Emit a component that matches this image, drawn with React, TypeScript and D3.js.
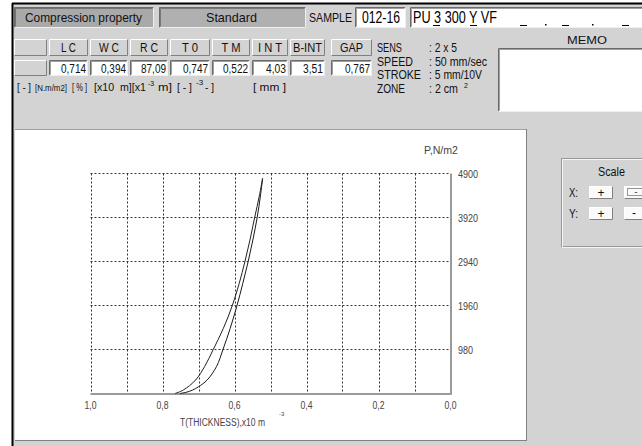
import React from "react";
import * as d3 from "d3";

// ---- data ----
const tableHeaders = ["L C", "W C", "R C", "T 0", "T M", "I N T", "B-INT", "GAP"];
const tableValues = ["0,714", "0,394", "87,09", "0,747", "0,522", "4,03", "3,51", "0,767"];
const infoLabels = ["SENS", "SPEED", "STROKE", "ZONE"];
const infoValues = [": 2 x 5", ": 50 mm/sec", ": 5 mm/10V", ": 2 cm"];
const xTicks = [1.0, 0.8, 0.6, 0.4, 0.2, 0.0];
const xGrid = [1.0, 0.9, 0.8, 0.7, 0.6, 0.5, 0.4, 0.3, 0.2, 0.1];
const yTicks = [980, 1960, 2940, 3920, 4900];
// loading curve (thickness mm, pressure N/m2)
const loadT = [0.765, 0.742, 0.708, 0.683, 0.659, 0.631, 0.606, 0.587, 0.571, 0.557, 0.544, 0.531, 0.522];
const loadP = [0, 78, 300, 600, 980, 1450, 1960, 2450, 2940, 3420, 3920, 4400, 4790];
// recovery curve
const recT = [0.752, 0.735, 0.716, 0.700, 0.676, 0.650, 0.632, 0.612, 0.593, 0.577, 0.562, 0.549, 0.537, 0.528, 0.522];
const recP = [0, 25, 78, 150, 300, 600, 980, 1450, 1960, 2450, 2940, 3420, 3920, 4400, 4790];

const FONT = "'Liberation Sans', Arial, sans-serif";
const BG = "#d3d3d3";

function T({ w, children, ...rest }: any) {
  return (
    <text textLength={w} lengthAdjust="spacingAndGlyphs" {...rest}>
      {children}
    </text>
  );
}

function Raised({ x, y, w, h, fill = BG }: any) {
  return (
    <g>
      <rect x={x} y={y} width={w} height={h} fill={fill} />
      <path d={`M${x + 0.5},${y + h - 0.5}V${y + 0.5}H${x + w - 0.5}`} stroke="#fff" fill="none" />
      <path d={`M${x + 0.5},${y + h - 0.5}H${x + w - 0.5}V${y + 0.5}`} stroke="#808080" fill="none" />
    </g>
  );
}
function Sunken({ x, y, w, h, fill = "#fff" }: any) {
  return (
    <g>
      <rect x={x} y={y} width={w} height={h} fill={fill} />
      <path d={`M${x + 0.5},${y + h - 0.5}V${y + 0.5}H${x + w - 0.5}`} stroke="#6a6a6a" fill="none" />
      <path d={`M${x + 1.5},${y + h - 1.5}V${y + 1.5}H${x + w - 1.5}`} stroke="#404040" fill="none" strokeOpacity={0.5} />
      <path d={`M${x + 0.5},${y + h - 0.5}H${x + w - 0.5}V${y + 0.5}`} stroke="#eee" fill="none" />
    </g>
  );
}

const cellX = [14, 49, 90, 130, 170, 212, 252, 290, 331];
const cellW = [33, 39, 38, 38, 40, 38, 36, 35, 41];
const headW = [15, 20, 18, 16, 19, 24, 29, 23];
const infoLabelW = [25, 36, 44, 28];
const infoValueW = [28, 58, 53, 29];

export default function App() {
  const x = d3.scaleLinear().domain([1, 0]).range([90.5, 450.5]);
  const y = d3.scaleLinear().domain([0, 4900]).range([393.5, 173.5]);
  const line = d3
    .line<[number, number]>()
    .x((d) => x(d[0]))
    .y((d) => y(d[1]))
    .curve(d3.curveCatmullRom.alpha(0.5));
  const loadPts = loadT.map((t, i) => [t, loadP[i]] as [number, number]);
  const recPts = recT.map((t, i) => [t, recP[i]] as [number, number]);
  const fmt = (v: number) => v.toFixed(1).replace(".", ",");

  return (
    <div style={{ position: "fixed", left: 0, top: 0 }}>
      <svg width={642} height={446} style={{ display: "block", fontFamily: FONT }}>
        <rect x={0} y={0} width={642} height={446} fill="#fff" />
        <rect x={12} y={3} width={630} height={443} fill={BG} />
        <line x1={12} y1={3.5} x2={642} y2={3.5} stroke="#000" strokeWidth={2} />
        <line x1={12.5} y1={3} x2={12.5} y2={446} stroke="#000" strokeWidth={2} />

        {/* header bar */}
        <Sunken x={14} y={7} w={140} h={21} fill="#a9a9a9" />
        <T x={25} y={22} w={117} fontSize={13} fill="#111">Compression property</T>
        <Sunken x={159} y={7} w={147} h={21} fill="#b0b0b0" />
        <T x={206} y={22} w={51} fontSize={13} fill="#111">Standard</T>
        <T x={309} y={22} w={43} fontSize={13} fill="#111">SAMPLE</T>
        <Sunken x={355} y={7} w={51} h={21} />
        <T x={362} y={23} w={38} fontSize={16} fill="#000">012-16</T>
        <Sunken x={410} y={7} w={240} h={21} />
        <T x={413} y={23} w={84} fontSize={16} fill="#000" xmlSpace="preserve">PU 3 300 Y VF</T>
        <line x1={433} y1={25.5} x2={440} y2={25.5} stroke="#000" />
        <line x1={470} y1={25.5} x2={477} y2={25.5} stroke="#000" />
        {[520, 562, 622].map((px) => (
          <line key={px} x1={px} y1={25.5} x2={px + 7} y2={25.5} stroke="#000" />
        ))}
        {[545, 592].map((px) => (
          <rect key={px} x={px} y={24} width={1.5} height={1.5} fill="#000" />
        ))}

        {/* table */}
        <Raised x={cellX[0]} y={39} w={cellW[0]} h={17} />
        <Raised x={cellX[0]} y={60} w={cellW[0]} h={16} />
        {tableHeaders.map((h, i) => (
          <g key={h}>
            <Raised x={cellX[i + 1]} y={39} w={cellW[i + 1]} h={17} />
            <T x={cellX[i + 1] + cellW[i + 1] / 2} y={52} w={headW[i]} textAnchor="middle" fontSize={12.5} fill="#111">{h}</T>
            <Sunken x={cellX[i + 1]} y={60} w={cellW[i + 1]} h={16} />
            <T x={cellX[i + 1] + cellW[i + 1] - 2} y={72.5} w={tableValues[i].length * 5} textAnchor="end" fontSize={12.5} fill="#111">{tableValues[i]}</T>
          </g>
        ))}
        <g fontSize={10.5} fill="#111">
          <T x={17} y={91} w={14}>[ - ]</T>
          <T x={35} y={91} w={32} fontSize={8.5}>[N.m/m2]</T>
          <T x={72} y={91} w={15}>[ % ]</T>
          <T x={94} y={91} w={52} xmlSpace="preserve">[x10  m][x1</T>
          <text x={148} y={86} fontSize={7}>-3</text>
          <T x={158} y={91} w={14}>m]</T>
          <T x={177} y={91} w={15}>[ - ]</T>
          <text x={196} y={85} fontSize={8}>-3</text>
          <T x={205} y={91} w={9}>- ]</T>
          <T x={253} y={91} w={33}>[ mm ]</T>
        </g>

        {/* info */}
        {infoLabels.map((l, i) => (
          <g key={l} fontSize={13} fill="#111">
            <T x={377} y={52 + i * 13.5} w={infoLabelW[i]}>{l}</T>
            <T x={429} y={52 + i * 13.5} w={infoValueW[i]}>{infoValues[i]}</T>
          </g>
        ))}
        <text x={464} y={88} fontSize={7} fill="#111">2</text>

        {/* memo */}
        <T x={567} y={44} w={40} fontSize={11} fill="#111">MEMO</T>
        <Sunken x={498} y={48} w={150} h={64} />

        {/* chart panel */}
        <rect x={15} y={129} width={512} height={312} fill="#fff" />
        <line x1={15} y1={129.5} x2={527} y2={129.5} stroke="#a0a0a0" />
        <line x1={526.5} y1={129} x2={526.5} y2={441} stroke="#808080" />
        <line x1={15} y1={440.5} x2={527} y2={440.5} stroke="#808080" />

        {/* grid */}
        <g stroke="#333" strokeDasharray="2,2" strokeWidth={1}>
          {xGrid.map((t) => (
            <line key={t} x1={Math.round(x(t)) + 0.5} x2={Math.round(x(t)) + 0.5} y1={y(4900)} y2={y(0)} />
          ))}
          {yTicks.map((p) => (
            <line key={p} x1={x(1)} x2={x(0)} y1={y(p)} y2={y(p)} />
          ))}
        </g>
        <line x1={x(1)} x2={x(0) + 1} y1={y(0) + 0.5} y2={y(0) + 0.5} stroke="#9a9a9a" strokeWidth={2} />
        <line x1={x(0) + 0.5} x2={x(0) + 0.5} y1={y(4900)} y2={y(0) + 1} stroke="#9a9a9a" strokeWidth={2} />

        {/* curves */}
        <path d={line(loadPts) || ""} fill="none" stroke="#222" strokeWidth={1} />
        <path d={line(recPts) || ""} fill="none" stroke="#1a1a1a" strokeWidth={1} />

        {/* axes labels */}
        <g fontSize={10} fill="#444">
          {xTicks.map((t) => (
            <T key={t} x={x(t)} y={409} w={12} textAnchor="middle">{fmt(t)}</T>
          ))}
          {yTicks.map((p) => (
            <T key={p} x={458} y={y(p) + 4} w={String(p).length === 4 ? 20 : 15}>{p}</T>
          ))}
          <T x={424} y={154} w={34}>P,N/m2</T>
          <T x={180} y={426} w={85}>T(THICKNESS),x10 m</T>
          <text x={279} y={416} fontSize={6}>-3</text>
        </g>

        {/* scale panel */}
        <rect x={561.5} y={158.5} width={90} height={88} fill="none" stroke="#9a9a9a" />
        <rect x={562.5} y={159.5} width={90} height={88} fill="none" stroke="#f4f4f4" />
        <T x={598} y={176} w={27} fontSize={12} fill="#111">Scale</T>
        <T x={569} y={197} w={9} fontSize={12} fill="#111">X:</T>
        <T x={569} y={218} w={9} fontSize={12} fill="#111">Y:</T>
        <Raised x={589} y={186} w={24} h={13} fill="#fafafa" />
        <text x={601} y={197} textAnchor="middle" fontSize={12} fill="#111">+</text>
        <Raised x={589} y={207} w={24} h={13} fill="#fafafa" />
        <text x={601} y={218} textAnchor="middle" fontSize={12} fill="#111">+</text>
        <Raised x={624} y={186} w={24} h={13} fill="#fafafa" />
        <rect x={627.5} y={188.5} width={18} height={7} fill="none" stroke="#333" strokeDasharray="1,1" />
        <text x={636} y={195} textAnchor="middle" fontSize={9} fill="#111">-</text>
        <Raised x={624} y={207} w={24} h={13} fill="#fafafa" />
        <text x={634} y={217} textAnchor="middle" fontSize={12} fill="#111">-</text>
      </svg>
    </div>
  );
}
